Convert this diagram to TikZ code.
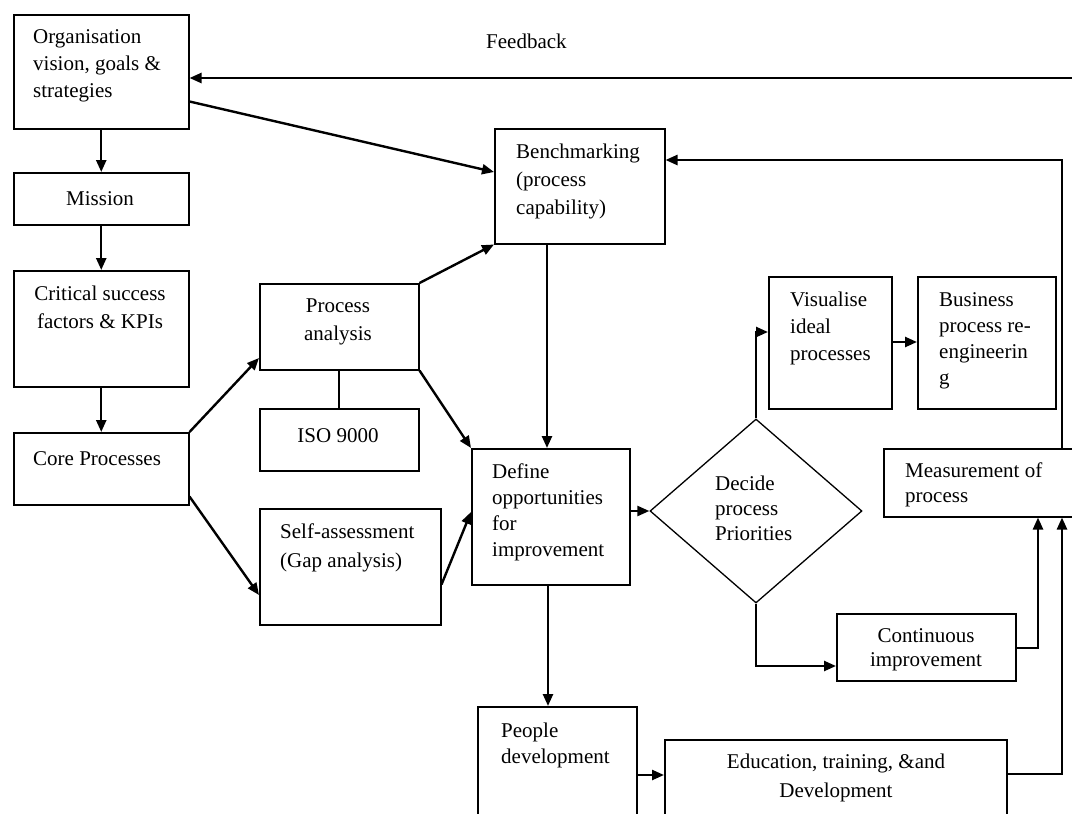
\documentclass[tikz,border=0pt]{standalone}
\usepackage{fontspec}
\setmainfont{Liberation Serif}
\usetikzlibrary{arrows.meta,calc,shapes.geometric}

\tikzset{
  box/.style={draw, line width=1.5pt, inner sep=0pt, anchor=north west},
  % multi-line labels are placed by the baseline of their last line
  lbl/.style={font=\fontsize{21}{#1}\selectfont, inner sep=0pt, align=left},
  lbl/.default=27,
  clbl/.style={font=\fontsize{21}{#1}\selectfont, inner sep=0pt, align=center},
  clbl/.default=27,
  arr/.style={line width=2.4pt, -{Triangle[length=12pt,width=10pt]}},
  link/.style={line width=1.6pt},
}

\begin{document}
\begin{tikzpicture}[x=1pt,y=-1pt]
\clip (0,0) rectangle (1072,814);

% ---- boxes ----
\node[box, minimum width=175pt, minimum height=114pt] (org) at (13,14) {};
\node[box, minimum width=175pt, minimum height=52pt]  (mission) at (13,172) {};
\node[box, minimum width=175pt, minimum height=116pt] (csf) at (13,270) {};
\node[box, minimum width=175pt, minimum height=72pt]  (core) at (13,432) {};
\node[box, minimum width=159pt, minimum height=86pt]  (pa) at (259,283) {};
\node[box, minimum width=159pt, minimum height=62pt]  (iso) at (259,408) {};
\node[box, minimum width=181pt, minimum height=116pt] (sa) at (259,508) {};
\node[box, minimum width=170pt, minimum height=115pt] (bench) at (494,128) {};
\node[box, minimum width=158pt, minimum height=136pt] (def) at (471,448) {};
\node[box, minimum width=123pt, minimum height=132pt] (vis) at (768,276) {};
\node[box, minimum width=138pt, minimum height=132pt] (bus) at (917,276) {};
\node[box, minimum width=200pt, minimum height=68pt]  (meas) at (883,448) {};
\node[box, minimum width=179pt, minimum height=67pt]  (cont) at (836,613) {};
\node[box, minimum width=159pt, minimum height=130pt] (people) at (477,706) {};
\node[box, minimum width=342pt, minimum height=100pt] (edu) at (664,739) {};
\node[draw, diamond, line width=1.3pt, inner sep=0pt,
      minimum width=212pt, minimum height=184pt] (dec) at (756,511) {};

% ---- texts ----
\node[lbl, anchor=base west] (orgT) at (33,97) {Organisation\\vision, goals \&\\strategies};
\node[lbl, anchor=base west] (fbT) at (486,48) {Feedback};
\node[clbl, anchor=base] (missionT) at (100,205) {Mission};
\node[clbl=28, anchor=base] (csfT) at (100,328) {Critical success\\factors \& KPIs};
\node[lbl, anchor=base west] (coreT) at (33,465) {Core Processes};
\node[clbl=28, anchor=base] (paT) at (338,340) {Process\\analysis};
\node[clbl, anchor=base] (isoT) at (338,442) {ISO 9000};
\node[lbl=29, anchor=base west] (saT) at (280,567) {Self-assessment\\(Gap analysis)};
\node[lbl=28, anchor=base west] (benchT) at (516,214) {Benchmarking\\(process\\capability)};
\node[lbl=26, anchor=base west] (defT) at (492,556) {Define\\opportunities\\for\\improvement};
\node[lbl=25, anchor=base west] (decT) at (715,540) {Decide\\process\\Priorities};
\node[lbl, anchor=base west] (visT) at (790,360) {Visualise\\ideal\\processes};
\node[lbl=26, anchor=base west] (busT) at (939,384) {Business\\process re-\\engineerin\\g};
\node[lbl=25, anchor=base west] (measT) at (905,502) {Measurement of\\process};
\node[clbl=24, anchor=base] (contT) at (926,666) {Continuous\\improvement};
\node[lbl=26, anchor=base west] (peopleT) at (501,763) {People\\development};
\node[clbl=29, anchor=base] (eduT) at (836,797) {Education, training, \&and\\Development};

% ---- helper points on the box edges ----
\coordinate (fbR) at (1072,78);
\coordinate (benchIn) at ($(bench.north west)+(0,44)$);
\coordinate (benchFb) at ($(bench.north east)+(0,32)$);
\coordinate (defTop) at ($(def.north west)+(76,0)$);
\coordinate (defBot) at ($(def.south west)+(77,0)$);
\coordinate (defIn) at ($(def.north west)+(0,64)$);
\coordinate (visIn) at ($(vis.north west)+(0,56)$);
\coordinate (visOut) at ($(vis.north east)+(0,66)$);
\coordinate (contIn) at ($(cont.north west)+(0,53)$);
\coordinate (contOut) at ($(cont.north east)+(0,35)$);
\coordinate (measInA) at ($(meas.south west)+(155,0)$);
\coordinate (measInB) at ($(meas.south west)+(179,0)$);
\coordinate (measTop) at ($(meas.north west)+(179,0)$);
\coordinate (eduOut) at ($(edu.north east)+(0,35)$);
\coordinate (peopleOut) at ($(people.north east)+(0,69)$);

% ---- connectors ----
\draw[arr] (fbR) -- (fbR -| org.east);
\draw[arr] ($(org.south east)+(0,-28)$) -- (benchIn);
\draw[arr] (org.south) -- (mission.north);
\draw[arr] (mission.south) -- (csf.north);
\draw[arr] (csf.south) -- (core.north);
\draw[arr] (core.north east) -- ($(pa.north west)+(0,75)$);
\draw[arr] ($(core.south east)+(0,-9)$) -- ($(sa.north west)+(0,87)$);
\draw[arr] (pa.north east) -- (bench.south west);
\draw[link] (pa.south) -- (iso.north);
\draw[arr] (pa.south east) -- (def.north west);
\draw[arr] ($(sa.south east)+(0,-41)$) -- (defIn);
\draw[arr] (bench.south -| defTop) -- (defTop);
\draw[arr] (dec.west -| def.east) -- (dec.west);
\draw[arr] (dec.north) |- (visIn);
\draw[arr] (visOut) -- (visOut -| bus.west);
\draw[arr] (dec.south) |- (contIn);
\draw[arr] (contOut) -| (measInA);
\draw[arr] (eduOut) -| (measInB);
\draw[arr] (measTop) |- (benchFb);
\draw[arr] (defBot) -- (defBot |- people.north);
\draw[arr] (peopleOut) -- (peopleOut -| edu.west);
\end{tikzpicture}
\end{document}
